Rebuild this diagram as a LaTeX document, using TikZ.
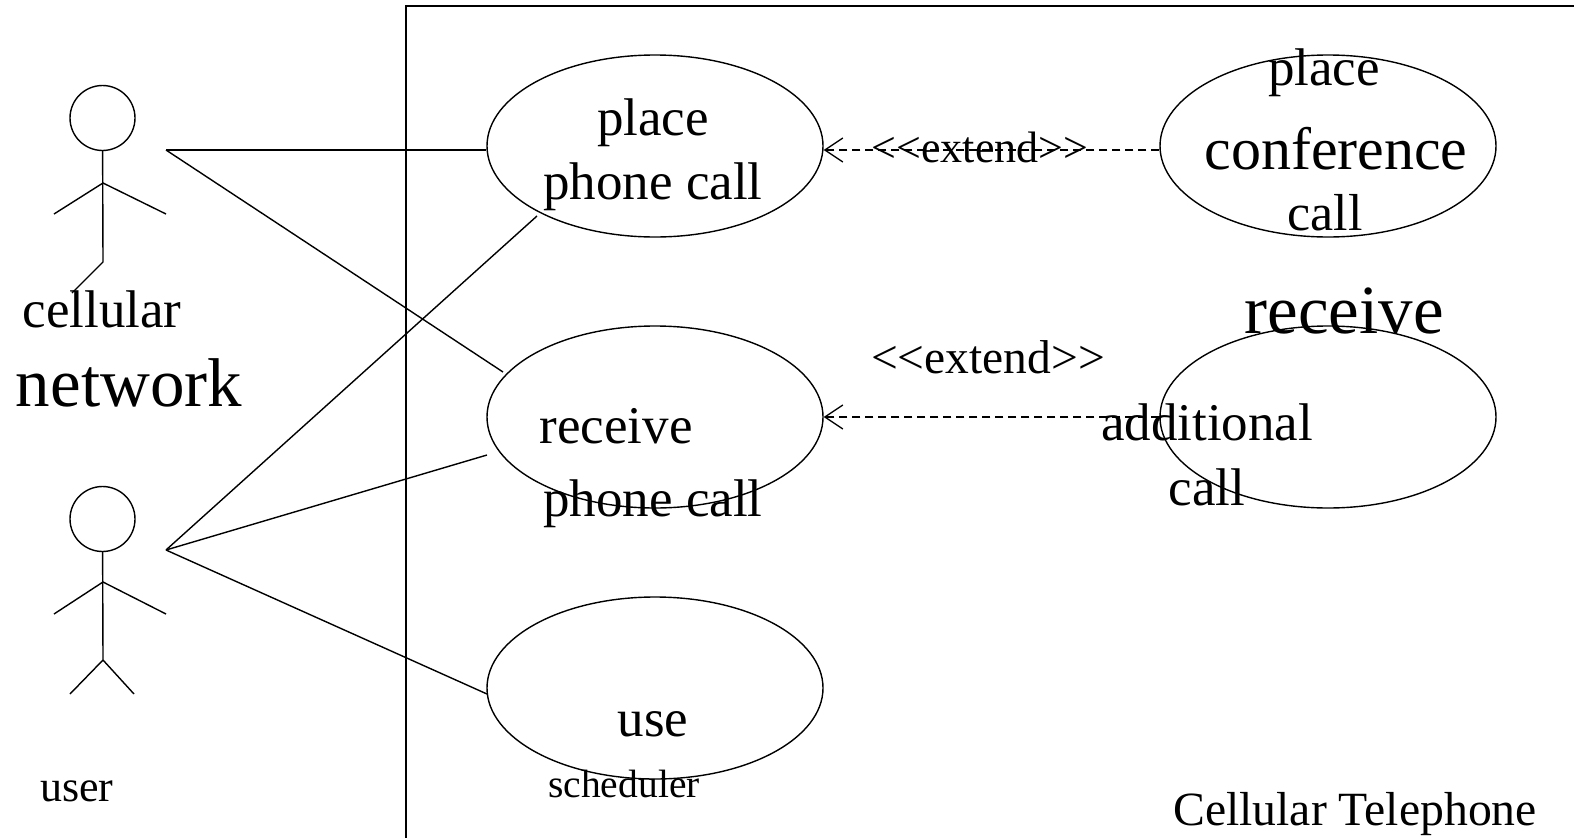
\documentclass[tikz,border=0pt]{standalone}
\usepackage{fontspec}
\setmainfont{Liberation Serif}
\usetikzlibrary{arrows.meta,shapes.geometric}
\tikzset{
 uc/.style={draw,ellipse,line width=1.4pt,minimum width=336pt,minimum height=182pt,inner sep=0pt},
 line/.style={line width=1.4pt,draw=black},
 dep/.style={line width=1.3pt,dash pattern=on 8pt off 5pt,-{Straight Barb[length=18pt,width=24pt,line width=1.3pt]}},
 lbl/.style={inner sep=0pt,anchor=base,text=black},
 head/.style={draw,circle,line width=1.4pt,minimum size=65pt,inner sep=0pt}
}
\begin{document}
\begin{tikzpicture}[x=1pt,y=-1pt]
\useasboundingbox (0,0) rectangle (1574,838);
\coordinate (tl) at (406,6);
\coordinate (tr) at (1574,6);
\coordinate (bl) at (406,838);
\draw[line] (tr) -- (tl) -- (bl);
% actors
\node[head] (h1) at (102.5,118) {};
\coordinate (b1) at (103,262);
\coordinate (s1) at (103,183);
\coordinate (la1) at (54,214);
\coordinate (ra1) at (166,214);
\coordinate (hand1) at (166,150);
\coordinate (leg1) at (72,293);
\draw[line] (h1) -- (b1) -- (leg1);
\draw[line] (la1) -- (s1) -- (ra1);
\node[head] (h2) at (102.5,519) {};
\coordinate (b2) at (103,660);
\coordinate (s2) at (103,582);
\coordinate (la2) at (54,614);
\coordinate (ra2) at (166,614);
\coordinate (hand2) at (166,550);
\coordinate (ll2) at (70,694);
\coordinate (rl2) at (134,694);
\draw[line] (h2) -- (b2) -- (ll2);
\draw[line] (b2) -- (rl2);
\draw[line] (la2) -- (s2) -- (ra2);
% use cases
\node[uc] (u1) at (655,146) {};
\node[uc] (u2) at (655,417) {};
\node[uc] (u3) at (655,688) {};
\node[uc] (u4) at (1328,146) {};
\node[uc] (u5) at (1328,417) {};
% connector free ends
\coordinate (e1) at (503,372);
\coordinate (e2) at (537,216);
\coordinate (e3) at (487,455);
\coordinate (e4) at (487,694);
% connectors
\draw[line] (hand1) -- (u1.west |- hand1);
\draw[line] (hand1) -- (e1);
\draw[line] (hand2) -- (e2);
\draw[line] (hand2) -- (e3);
\draw[line] (hand2) -- (e4);
\draw[dep] (u4.west |- 0,150) -- (u1.east |- 0,150);
\draw[dep] (u5.west |- 0,417) -- (u2.east);
% texts
\node[lbl,font=\fontsize{53}{53}\selectfont] (t1) at (102,327) {cellular};
\node[lbl,font=\fontsize{69}{69}\selectfont] (t2) at (129,406) {network};
\node[lbl,font=\fontsize{44}{44}\selectfont] (t3) at (77,801) {user};
\node[lbl,font=\fontsize{53}{53}\selectfont] (t4) at (653,135) {place};
\node[lbl,font=\fontsize{53}{53}\selectfont] (t5) at (653,199) {phone call};
\node[lbl,font=\fontsize{53}{53}\selectfont] (t6) at (616,443) {receive};
\node[lbl,font=\fontsize{53}{53}\selectfont] (t7) at (653,516) {phone call};
\node[lbl,font=\fontsize{53}{53}\selectfont] (t8) at (653,736) {use};
\node[lbl,font=\fontsize{39.5}{40}\selectfont] (t9) at (624,797) {scheduler};
\node[lbl,font=\fontsize{44}{44}\selectfont] (t10) at (980,162) {<{}<extend>{}>};
\node[lbl,font=\fontsize{47.5}{48}\selectfont] (t11) at (988,373) {<{}<extend>{}>};
\node[lbl,font=\fontsize{53}{53}\selectfont] (t12) at (1324,85) {place};
\node[lbl,font=\fontsize{60}{60}\selectfont] (t13) at (1336,169) {conference};
\node[lbl,font=\fontsize{52}{52}\selectfont] (t14) at (1325,230) {call};
\node[lbl,font=\fontsize{69}{69}\selectfont] (t15) at (1344,333) {receive};
\node[lbl,font=\fontsize{53}{53}\selectfont] (t16) at (1207,440) {additional};
\node[lbl,font=\fontsize{53}{53}\selectfont] (t17) at (1207,505) {call};
\node[lbl,font=\fontsize{47.7}{48}\selectfont] (t18) at (1355,825) {Cellular Telephone};
\end{tikzpicture}
\end{document}
